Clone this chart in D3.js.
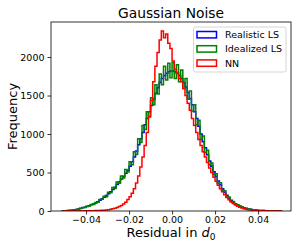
<!DOCTYPE html>
<html>
<head>
<meta charset="utf-8">
<title>Gaussian Noise</title>
<script src="https://d3js.org/d3.v7.min.js"></script>
<style>
  body { margin: 0; background: #fff; }
  text { font-family: "DejaVu Sans", sans-serif; fill: #000; }
</style>
</head>
<body>
<script>
var width = 299, height = 249;
var margin = {left: 51, right: 8, top: 22, bottom: 38};

// histogram bins: 102 bins of width 0.001 starting at -0.051
var binStart = -0.051, binWidth = 0.001;

var realisticLS = [2,3,5,8,10,14,18,25,35,42,50,58,68,80,90,105,120,140,160,180,
  200,225,250,280,310,345,380,415,450,490,530,580,640,700,780,860,940,1020,1120,1200,
  1290,1370,1450,1530,1600,1670,1720,1760,1790,1810,1820,1820,1810,1790,1760,1720,1670,1610,1540,1460,
  1380,1290,1200,1100,1000,900,820,730,650,580,510,450,390,340,290,245,205,170,140,115,
  95,80,65,52,42,34,27,22,17,13,10,8,6,5,4,3,2,2,1,1,1,0];

var idealizedLS = [1,3,4,9,8,15,17,28,31,45,47,62,64,86,84,110,114,149,152,191,
  185,245,238,305,292,378,362,455,428,540,505,640,600,770,735,940,890,1110,1060,1290,
  1220,1470,1380,1640,1520,1780,1640,1880,1700,1920,1730,1930,1720,1900,1680,1830,1590,1720,1450,1560,
  1300,1380,1120,1180,930,975,760,790,600,625,475,485,360,368,268,262,190,182,128,124,
  90,82,62,54,40,35,26,23,16,14,9,8,6,5,3,3,2,2,1,1,0,1];

var nn = [0,1,0,1,1,0,1,1,2,1,2,3,2,4,3,5,6,7,9,11,
  14,17,22,28,36,45,58,72,92,115,148,185,232,290,365,455,570,700,850,1020,
  1230,1440,1680,1880,2060,2220,2338,2250,2300,2180,2110,1950,1840,1790,1720,1680,1590,1500,1400,1310,
  1200,1110,1020,930,850,770,700,630,560,500,440,385,335,290,250,210,175,145,118,96,
  78,62,49,38,29,22,17,12,9,7,5,4,3,2,2,1,1,1,0,1,0,0];

var seriesNames = ["Realistic LS", "Idealized LS", "NN"];
var seriesColors = ["#0000ff", "#008000", "#ff0000"];
var seriesData = [realisticLS, idealizedLS, nn];

var xTicks = [-0.04, -0.02, 0.00, 0.02, 0.04];
var yTicks = [0, 500, 1000, 1500, 2000];

var svg = d3.select("body").append("svg")
  .attr("width", width).attr("height", height);

var x = d3.scaleLinear().domain([-0.0563, 0.0553])
  .range([margin.left, width - margin.right]);
var y = d3.scaleLinear().domain([0, 2455])
  .range([height - margin.bottom, margin.top]);

// plot area clip
svg.append("clipPath").attr("id", "clip").append("rect")
  .attr("x", margin.left).attr("y", margin.top)
  .attr("width", width - margin.left - margin.right)
  .attr("height", height - margin.top - margin.bottom);

var line = d3.line().x(function(d) { return x(d[0]); }).y(function(d) { return y(d[1]); });

function stepPoints(counts) {
  var pts = [[binStart, 0]];
  counts.forEach(function(c, i) {
    pts.push([binStart + i * binWidth, c]);
    pts.push([binStart + (i + 1) * binWidth, c]);
  });
  pts.push([binStart + counts.length * binWidth, 0]);
  return pts;
}

svg.append("g").attr("clip-path", "url(#clip)")
  .selectAll("path").data(seriesData).enter().append("path")
  .attr("d", function(d) { return line(stepPoints(d)); })
  .attr("fill", "none")
  .attr("stroke", function(d, i) { return seriesColors[i]; })
  .attr("stroke-width", 1.5)
  .attr("stroke-linejoin", "miter");

// axes
var xAxis = d3.axisBottom(x).tickValues(xTicks).tickSize(3.5).tickPadding(1.5)
  .tickFormat(function(d) { return d3.format(".2f")(d).replace("-", "\u2212"); });
var yAxis = d3.axisLeft(y).tickValues(yTicks).tickSize(3.5).tickPadding(3)
  .tickFormat(d3.format("d"));

var gx = svg.append("g").attr("transform", "translate(0," + (height - margin.bottom) + ")").call(xAxis);
var gy = svg.append("g").attr("transform", "translate(" + margin.left + ",0)").call(yAxis);
[gx, gy].forEach(function(g) {
  g.select(".domain").remove();
  g.selectAll(".tick line").attr("stroke", "#000").attr("stroke-width", 0.8);
  g.selectAll(".tick text").attr("font-size", "9.5px").attr("font-family", "DejaVu Sans");
});

// frame
svg.append("rect")
  .attr("x", margin.left).attr("y", margin.top)
  .attr("width", width - margin.left - margin.right)
  .attr("height", height - margin.top - margin.bottom)
  .attr("fill", "none").attr("stroke", "#000").attr("stroke-width", 0.8);

// title and labels
svg.append("text").attr("x", 171).attr("y", 18).attr("text-anchor", "middle")
  .attr("font-size", "13.8px").text("Gaussian Noise");

svg.append("text").attr("transform", "translate(17," + ((margin.top + height - margin.bottom) / 2) + ") rotate(-90)")
  .attr("text-anchor", "middle").attr("font-size", "13px").text("Frequency");

var xl = svg.append("text").attr("x", 171).attr("y", 237).attr("text-anchor", "middle")
  .attr("font-size", "13px");
xl.append("tspan").text("Residual in ");
xl.append("tspan").attr("font-style", "italic").text("d");
xl.append("tspan").attr("font-size", "9px").attr("dy", 2.5).text("0");

// legend
var legend = svg.append("g");
legend.append("rect").attr("x", 193.5).attr("y", 27).attr("width", 92.5).attr("height", 45)
  .attr("rx", 2).attr("fill", "#fff").attr("fill-opacity", 0.8)
  .attr("stroke", "#cccccc").attr("stroke-width", 0.8);
var items = legend.selectAll("g.item").data(seriesNames).enter().append("g")
  .attr("transform", function(d, i) { return "translate(0," + (i * 14.2) + ")"; });
items.append("rect").attr("x", 197).attr("y", 31.5).attr("width", 19.5).attr("height", 6.4)
  .attr("fill", "none").attr("stroke-width", 1.5)
  .attr("stroke", function(d, i) { return seriesColors[i]; });
items.append("text").attr("x", 225).attr("y", 38.3).attr("font-size", "9.5px")
  .text(function(d) { return d; });
</script>
</body>
</html>
